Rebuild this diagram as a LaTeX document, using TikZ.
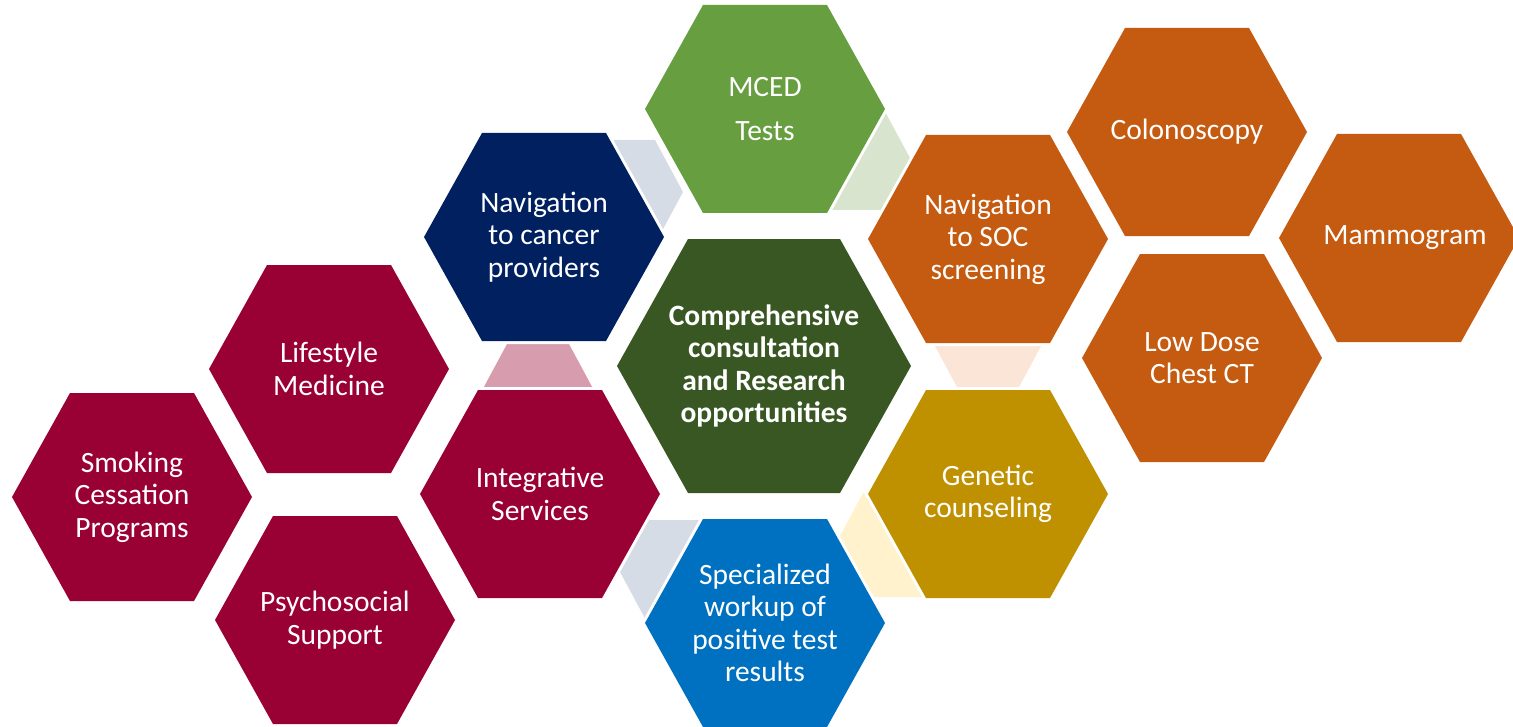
\documentclass[tikz,border=0pt]{standalone}
\usepackage{fontspec}
\setmainfont{Carlito}

\definecolor{crimson}{HTML}{990033}
\definecolor{navyblue}{HTML}{002060}
\definecolor{mcedgreen}{HTML}{669E40}
\definecolor{coregreen}{HTML}{385723}
\definecolor{socorange}{HTML}{C55A11}
\definecolor{gold}{HTML}{BF9000}
\definecolor{workupblue}{HTML}{0070C0}
\definecolor{linkblue}{HTML}{D6DCE5}
\definecolor{linkgreen}{HTML}{D8E4CE}
\definecolor{linkpeach}{HTML}{FBE5D6}
\definecolor{linkyellow}{HTML}{FFF2CC}
\definecolor{linkpink}{HTML}{D79CAE}

% colour, centre x, centre y, half width, half height, half top
\newcommand{\hexfill}[6]{%
  \fill[#1, shift={(#2,#3)}] (-#4,0) -- (-#6,-#5) -- (#6,-#5) -- (#4,0) -- (#6,#5) -- (-#6,#5) -- cycle;}

\tikzset{
  bighex/.style={preaction={draw=white, line width=3pt}},
  hextext/.style={text=white, align=center, font=\fontsize{14.75pt}{16.2pt}\selectfont},
}

\begin{document}
\begin{tikzpicture}[x=0.5pt, y=-0.5pt]
    \useasboundingbox (0,0) rectangle (1513,727);

    % links between the hexagons
    \coordinate (linkNW) at (624,192);
    \coordinate (linkNE) at (851,158);
    \coordinate (linkW) at (538,396);
    \coordinate (linkE) at (988,335);
    \coordinate (linkSE) at (894,545);
    \coordinate (linkSW) at (679,572);
    \hexfill{linkblue}{624}{192}{59}{52}{31}
    \hexfill{linkgreen}{851}{158}{59}{52}{31}
    \hexfill{linkpink}{538}{396}{59}{52}{31}
    \hexfill{linkpeach}{988}{335}{59}{52}{31}
    \hexfill{linkyellow}{894}{545}{59}{52}{31}
    \hexfill{linkblue}{679}{572}{59}{52}{31}

    % hexagons
    \hexfill{coregreen, bighex}{764}{366}{147}{127}{76}
    \hexfill{mcedgreen, bighex}{765}{109}{120}{104}{62}
    \hexfill{navyblue, bighex}{544}{237}{120}{104}{62}
    \hexfill{socorange, bighex}{988}{239}{120}{104}{62}
    \hexfill{socorange, bighex}{1187}{132}{120}{104}{62}
    \hexfill{socorange, bighex}{1399}{238}{120}{104}{62}
    \hexfill{socorange, bighex}{1202}{358}{120}{104}{62}
    \hexfill{gold, bighex}{988}{494}{120}{104}{62}
    \hexfill{workupblue, bighex}{765}{623}{120}{104}{62}
    \hexfill{crimson, bighex}{540}{494}{120}{104}{62}
    \hexfill{crimson, bighex}{329}{369}{120}{104}{62}
    \hexfill{crimson, bighex}{132}{497}{120}{104}{62}
    \hexfill{crimson, bighex}{335}{620}{120}{104}{62}

    % labels
    \node[hextext, font=\fontsize{14.75pt}{16.2pt}\selectfont\bfseries] (core) at (764,366) {Comprehensive\\consultation\\and Research\\opportunities};
    \node[hextext] (mced) at (765,109) {MCED\\[5.8pt]Tests};
    \node[hextext] (navcancer) at (544,237) {Navigation\\to cancer\\providers};
    \node[hextext] (navsoc) at (988,239) {Navigation\\to SOC\\screening};
    \node[hextext] (colon) at (1187,132) {Colonoscopy};
    \node[hextext] (mammo) at (1405,238) {Mammogram};
    \node[hextext] (ldct) at (1202,358) {Low Dose\\Chest CT};
    \node[hextext] (genetic) at (988,494) {Genetic\\counseling};
    \node[hextext] (workup) at (765,623) {Specialized\\workup of\\positive test\\results};
    \node[hextext] (integ) at (540,494) {Integrative\\Services};
    \node[hextext] (lifestyle) at (329,369) {Lifestyle\\Medicine};
    \node[hextext] (smoking) at (132,497) {Smoking\\Cessation\\Programs};
    \node[hextext] (psycho) at (335,620) {Psychosocial\\Support};
\end{tikzpicture}
\end{document}
